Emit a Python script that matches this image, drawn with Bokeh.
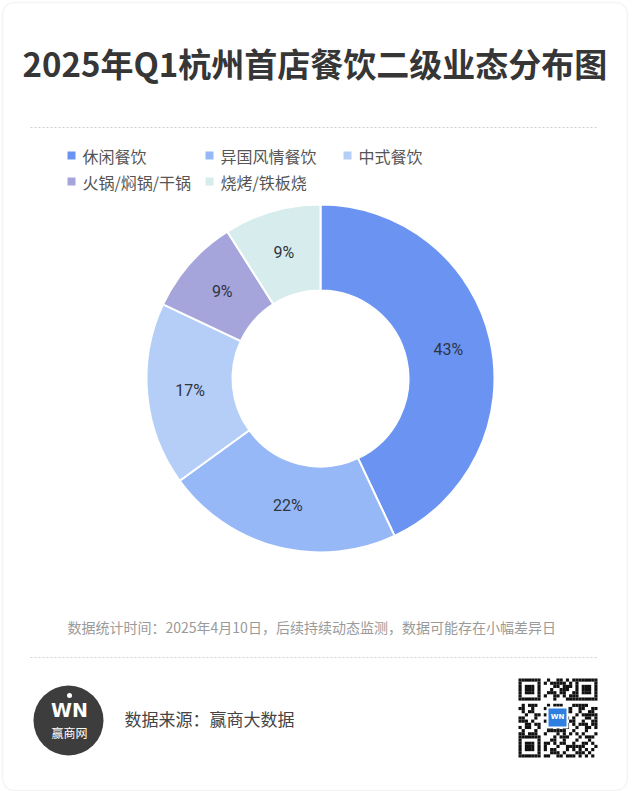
import numpy as np
from bokeh.plotting import figure
from bokeh.models import Range1d, BoxAnnotation, ColumnDataSource
from bokeh.core.properties import value
from bokeh.embed import file_html
from bokeh.resources import INLINE

# ---------------- data ----------------
categories = ["休闲餐饮", "异国风情餐饮", "中式餐饮", "火锅/焖锅/干锅", "烧烤/铁板烧"]
shares = [43, 22, 17, 9, 9]
colors = ["#6b94f2", "#97b8f6", "#b5cef8", "#a5a5dc", "#d7ecec"]
title_text = "2025年Q1杭州首店餐饮二级业态分布图"
note_text = "数据统计时间：2025年4月10日，后续持续动态监测，数据可能存在小幅差异日"
source_text = "数据来源：赢商大数据"

CJK = "Noto Sans CJK SC"
W, H = 630, 791


def X(px):
    return px


def Y(py):
    return H - py


p = figure(width=W, height=H, x_range=Range1d(0, W), y_range=Range1d(0, H),
           output_backend="svg", toolbar_location=None,
           x_axis_type=None, y_axis_type=None, min_border=0)
p.outline_line_color = None
p.background_fill_color = "white"
p.border_fill_color = "white"

# card
card = BoxAnnotation(left=X(2), right=X(627), bottom=Y(790), top=Y(2),
                     border_radius=12, fill_color="white", fill_alpha=1,
                     line_color="#dadada", line_width=1.5, level="underlay")
p.add_layout(card)

# title
p.text(x=[X(22)], y=[Y(62)], text=[title_text], text_font=value(CJK),
       text_font_size="33px", text_font_style="bold", text_color="#363636",
       text_baseline="middle", text_align="left")

# dotted separators
p.segment(x0=[X(30), X(30)], y0=[Y(127), Y(657)], x1=[X(597), X(597)], y1=[Y(127), Y(657)],
          line_color="#cfcfcf", line_width=1, line_dash="2 2")

# legend
col_x = [71, 209, 347]
row_y = [155, 181]
lx = [X(col_x[i % 3]) for i in range(len(categories))]
ly = [Y(row_y[i // 3]) for i in range(len(categories))]
leg = ColumnDataSource(dict(x=lx, y=ly, tx=[v + 11 for v in lx], c=colors, t=categories))
p.rect(x="x", y="y", width=8, height=8, fill_color="c", line_color=None, source=leg)
p.text(x="tx", y="y", text="t", source=leg, text_font=value(CJK), text_font_size="16px",
       text_color="#555555", text_baseline="middle", text_align="left")

# donut
cx, cy = X(320), Y(378)
fr = np.array(shares, dtype=float) / sum(shares)
cum = np.concatenate([[0.0], np.cumsum(fr)])
start = np.pi / 2 - cum[:-1] * 2 * np.pi
end = np.pi / 2 - cum[1:] * 2 * np.pi
mid = (start + end) / 2
r_in, r_out = 88, 174
r_lab = (r_in + r_out) / 2
src = ColumnDataSource(dict(start=start, end=end, c=colors,
                            lx=cx + r_lab * np.cos(mid), ly=cy + r_lab * np.sin(mid),
                            lab=[f"{v}%" for v in shares]))
p.annular_wedge(x=cx, y=cy, inner_radius=r_in, outer_radius=r_out,
                start_angle="start", end_angle="end", direction="clock",
                fill_color="c", line_color="white", line_width=2, source=src)
p.text(x="lx", y="ly", text="lab", source=src, text_font=value("Roboto"),
       text_font_size="16px", text_color="#2f3440", text_align="center",
       text_baseline="middle")

# footnote
p.text(x=[X(67)], y=[Y(626)], text=[note_text], text_font=value(CJK),
       text_font_size="14px", text_color="#9a9a9a", text_baseline="middle", text_align="left")

# logo
p.circle(x=[X(68)], y=[Y(720)], radius=35, fill_color="#3d3d3d", line_color=None)
p.text(x=[X(69)], y=[Y(709)], text=["WN"], text_font=value("DejaVu Sans"),
       text_font_size="19px", text_font_style="bold", text_color="white",
       text_align="center", text_baseline="middle")
p.circle(x=[X(69)], y=[Y(695)], radius=2.5, fill_color="white", line_color=None)
p.text(x=[X(69)], y=[Y(732)], text=["赢商网"], text_font=value(CJK),
       text_font_size="12px", text_color="white", text_align="center", text_baseline="middle")

# source text
p.text(x=[X(124)], y=[Y(718)], text=[source_text], text_font=value(CJK),
       text_font_size="17px", text_color="#444444", text_baseline="middle", text_align="left")

# QR-like decoration
n = 25
qx0, qy0, qs = 518, 678, 79 / 25
qxs, qys = [], []
for i in range(n):
    for j in range(n):
        in_finder = False
        for (fi, fj) in [(0, 0), (0, n - 7), (n - 7, 0)]:
            if fi <= i < fi + 7 and fj <= j < fj + 7:
                in_finder = True
                a, b = i - fi, j - fj
                on = (a in (0, 6) or b in (0, 6)) or (2 <= a <= 4 and 2 <= b <= 4)
        if not in_finder:
            if (i == 7 or j == 7) and (i < 8 or j < 8) and not (i >= n - 8 and j >= n - 8):
                on = False
            else:
                on = ((i * 7 + j * 11 + (i * j) % 5) % 3 == 0) or ((i ^ j) % 4 == 1)
        if on:
            qxs.append(X(qx0 + (j + 0.5) * qs))
            qys.append(Y(qy0 + (i + 0.5) * qs))
p.rect(x=qxs, y=qys, width=qs, height=qs, fill_color="#111111", line_color=None)
p.rect(x=[X(557)], y=[Y(717)], width=22, height=22, fill_color="white", line_color=None)
p.rect(x=[X(557)], y=[Y(717)], width=18, height=18, fill_color="#2f7fe0", line_color=None)
p.text(x=[X(557)], y=[Y(716)], text=["WN"], text_font=value("DejaVu Sans"),
       text_font_size="7px", text_font_style="bold", text_color="white",
       text_align="center", text_baseline="middle")

open("out.html", "w").write(file_html(p, INLINE))
